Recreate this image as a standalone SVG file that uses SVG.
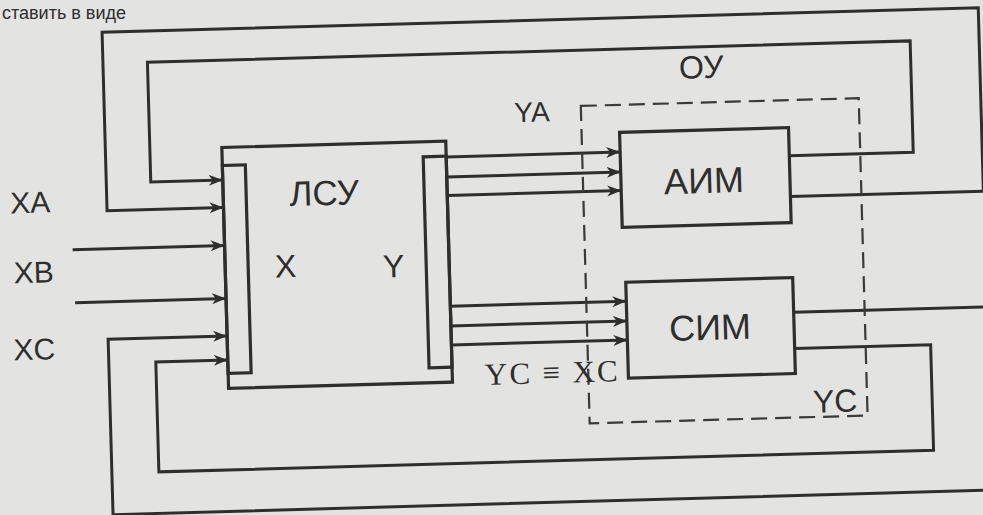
<svg xmlns="http://www.w3.org/2000/svg" width="983" height="515" viewBox="0 0 983 515">
<defs>
<marker id="ah" markerUnits="userSpaceOnUse" markerWidth="16" markerHeight="12" refX="14" refY="6" orient="auto">
<path d="M0,0.5 L14,6 L0,11.5 L4,6 z" fill="#2e2e2e"/>
</marker>
<style>
.ln{fill:none;stroke:#2e2e2e;stroke-width:3;stroke-linejoin:miter}
.ar{fill:none;stroke:#2e2e2e;stroke-width:3;marker-end:url(#ah)}
.box{fill:none;stroke:#2e2e2e;stroke-width:3.2}
.dash{fill:none;stroke:#3a3a3a;stroke-width:2.2;stroke-dasharray:16 8}
.s{font-family:"Liberation Sans",Arial,sans-serif;fill:#2e2e2e}
.t{font-family:"Liberation Serif","Times New Roman",serif;fill:#2e2e2e}
</style>
</defs>
<rect width="983" height="515" fill="#e3e3e1"/>
<text class="s" x="2" y="19" font-size="18" fill="#555">ставить в виде</text>
<g transform="rotate(-1.6 491 257)">
<g id="connectors">
<path class="ar" d="M792,164 H916 V52.7 H153 V172.5 H225"/>
<path class="ar" d="M792,205 H985 V21.5 H108.5 V200 H225"/>
<path class="ar" d="M73,238 H225"/>
<path class="ar" d="M74,291 H225"/>
<path class="ar" d="M792,320.6 H1020 V504 H106 V328.5 H225"/>
<path class="ar" d="M792,357 H928 V462.5 H153 V352.5 H225"/>
<path class="ar" d="M449,155.7 H623"/>
<path class="ar" d="M449,175.7 H623"/>
<path class="ar" d="M449,194.2 H623"/>
<path class="ar" d="M449,305 H625"/>
<path class="ar" d="M449,324.8 H625"/>
<path class="ar" d="M449,343.8 H625"/>
</g>
<g id="OU">
<rect class="dash" x="585" y="108.5" width="278" height="317.5"/>
<text class="s" x="706.5" y="84" font-size="32" text-anchor="middle">ОУ</text>
</g>
<g id="LSU">
<rect class="box" x="225" y="140" width="224" height="241"/>
<rect class="box" x="225" y="158" width="23" height="208"/>
<rect class="box" x="426" y="155" width="23" height="211"/>
<text class="s" x="326" y="200.5" font-size="35" text-anchor="middle">ЛСУ</text>
<text class="s" x="285.5" y="271.5" font-size="32" text-anchor="middle">X</text>
<text class="s" x="393.5" y="274.5" font-size="32" text-anchor="middle">Y</text>
</g>
<g id="AIM">
<rect class="box" x="623" y="136" width="169" height="95"/>
<text class="s" x="706" y="199" font-size="36" text-anchor="middle">АИМ</text>
</g>
<g id="SIM">
<rect class="box" x="625" y="286" width="167" height="96"/>
<text class="s" x="708" y="346" font-size="36" text-anchor="middle">СИМ</text>
</g>
<g id="labels">
<text class="s" x="32" y="200" font-size="30" text-anchor="middle">XA</text>
<text class="s" x="33.5" y="270" font-size="30" text-anchor="middle">XB</text>
<text class="s" x="32" y="347" font-size="30" text-anchor="middle">XC</text>
<text class="s" x="536" y="123" font-size="28" text-anchor="middle">YA</text>
<text class="t" x="548" y="384.7" font-size="31" text-anchor="middle" textLength="133" lengthAdjust="spacing">YC ≡ XC</text>
<text class="s" x="831" y="421.6" font-size="32" text-anchor="middle">YC</text>
</g>
</g>
</svg>
